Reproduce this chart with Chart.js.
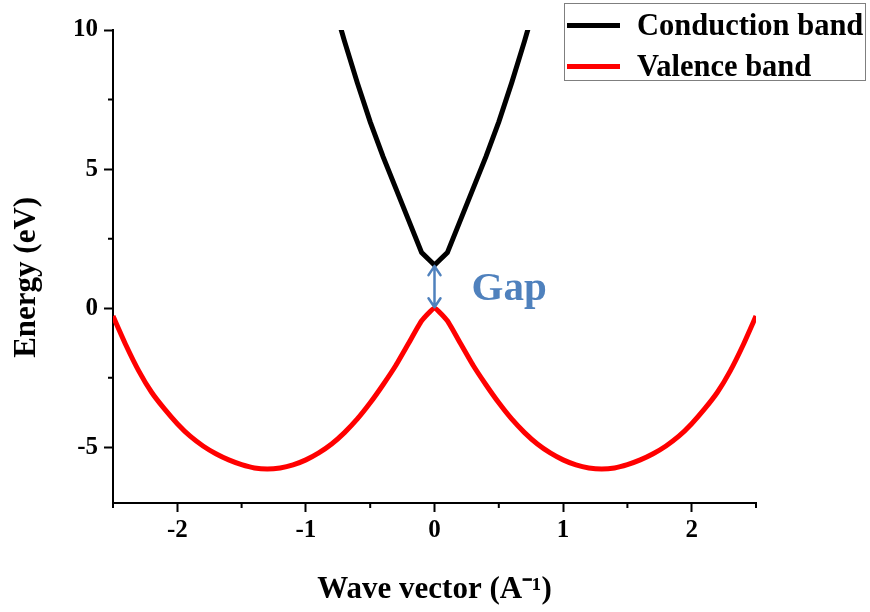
<!DOCTYPE html>
<html>
<head>
<meta charset="utf-8">
<script src="https://cdn.jsdelivr.net/npm/chart.js@4.4.1/dist/chart.umd.min.js"></script>
<style>
  html, body { margin: 0; padding: 0; background: #fff; }
  #wrap { position: relative; width: 870px; height: 612px; }
  #legend {
    position: absolute; left: 564px; top: 3px; width: 300px; height: 76px;
    border: 1px solid #7f7f7f; background: #fff;
    font-family: "Liberation Serif", "Times New Roman", serif;
    font-weight: bold; font-size: 30.5px; color: #000;
  }
  #legend .item { position: absolute; left: 2px; height: 36px; display: flex; align-items: center; white-space: nowrap; }
  #legend .swatch { width: 53px; height: 5px; margin-right: 17px; }
</style>
</head>
<body>
<div id="wrap">
  <canvas id="bandChart" width="870" height="612"></canvas>
  <div id="legend"></div>
</div>
<script>
// wave vector (A^-1) and energy (eV)
const kValence = [-2.5, -2.4, -2.3, -2.2, -2.1, -2.0, -1.9, -1.8, -1.7, -1.6, -1.5, -1.4, -1.3, -1.2, -1.1, -1.0,
                  -0.9, -0.8, -0.7, -0.6, -0.5, -0.4, -0.3, -0.2, -0.1, 0.0, 0.1, 0.2, 0.3, 0.4, 0.5, 0.6, 0.7,
                  0.8, 0.9, 1.0, 1.1, 1.2, 1.3, 1.4, 1.5, 1.6, 1.7, 1.8, 1.9, 2.0, 2.1, 2.2, 2.3, 2.4, 2.5];
const eValence = [-0.28, -1.32, -2.25, -3.02, -3.62, -4.15, -4.6, -4.95, -5.23, -5.45, -5.62, -5.74, -5.78, -5.74, -5.63, -5.45,
                  -5.2, -4.88, -4.47, -3.98, -3.4, -2.75, -2.05, -1.25, -0.45, 0.0, -0.45, -1.25, -2.05, -2.75, -3.4, -3.98, -4.47,
                  -4.88, -5.2, -5.45, -5.63, -5.74, -5.78, -5.74, -5.62, -5.45, -5.23, -4.95, -4.6, -4.15, -3.62, -3.02, -2.25, -1.32, -0.28];

const kConduction = [-0.8, -0.7, -0.6, -0.5, -0.4, -0.3, -0.2, -0.1, 0.0, 0.1, 0.2, 0.3, 0.4, 0.5, 0.6, 0.7, 0.8];
const eConduction = [11.2, 9.6, 8.1, 6.7, 5.45, 4.3, 3.15, 2.0, 1.55, 2.0, 3.15, 4.3, 5.45, 6.7, 8.1, 9.6, 11.2];

const xTicksMajor = [-2, -1, 0, 1, 2];
const yTicksMajor = [-5, 0, 5, 10];

// gap annotation
const gapBottom = 0;
const gapTop = 1.55;
const gapLabel = 'Gap';
const gapLabelAt = [0.58, 0.68];

const serif = '"Liberation Serif", "Times New Roman", serif';
const gapBlue = '#4f81bd';

function pairs(xs, ys) {
    return xs.map((x, i) => ({ x: x, y: ys[i] }));
}

const bandExtras = {
    id: 'bandExtras',
    afterDraw(chart) {
        const { ctx, scales: { x, y } } = chart;
        ctx.save();

        // short minor ticks
        ctx.strokeStyle = '#000';
        ctx.lineWidth = 2;
        ctx.beginPath();
        x.ticks.forEach(t => {
            if (xTicksMajor.includes(t.value)) return;
            const px = x.getPixelForValue(t.value);
            ctx.moveTo(px, x.top);
            ctx.lineTo(px, x.top + 5);
        });
        y.ticks.forEach(t => {
            if (yTicksMajor.includes(t.value) || t.value === y.min) return;
            const py = y.getPixelForValue(t.value);
            ctx.moveTo(y.right, py);
            ctx.lineTo(y.right - 5, py);
        });
        ctx.stroke();

        // double headed arrow for the gap
        const ax = x.getPixelForValue(0);
        const y1 = y.getPixelForValue(gapTop) + 1;
        const y2 = y.getPixelForValue(gapBottom) - 1;
        ctx.strokeStyle = gapBlue;
        ctx.lineWidth = 2.5;
        ctx.lineCap = 'round';
        ctx.lineJoin = 'round';
        ctx.beginPath();
        ctx.moveTo(ax, y1);
        ctx.lineTo(ax, y2);
        ctx.moveTo(ax - 6, y1 + 9);
        ctx.lineTo(ax, y1);
        ctx.lineTo(ax + 6, y1 + 9);
        ctx.moveTo(ax - 6, y2 - 9);
        ctx.lineTo(ax, y2);
        ctx.lineTo(ax + 6, y2 - 9);
        ctx.stroke();

        ctx.fillStyle = gapBlue;
        ctx.font = 'bold 41px ' + serif;
        ctx.textAlign = 'center';
        ctx.textBaseline = 'middle';
        ctx.fillText(gapLabel, x.getPixelForValue(gapLabelAt[0]), y.getPixelForValue(gapLabelAt[1]));
        ctx.restore();
    }
};

const ctxBand = document.getElementById('bandChart').getContext('2d');

const bandChart = new Chart(ctxBand, {
    type: 'line',
    data: {
        datasets: [{
            label: 'Conduction band',
            data: pairs(kConduction, eConduction),
            borderColor: '#000000',
            borderWidth: 5,
            pointRadius: 0,
            tension: 0,
            clip: 0
        }, {
            label: 'Valence band',
            data: pairs(kValence, eValence),
            borderColor: '#ff0000',
            borderWidth: 5,
            pointRadius: 0,
            tension: 0.15,
            clip: 0
        }]
    },
    options: {
        responsive: false,
        animation: false,
        layout: {
            padding: { top: 30, right: 114, bottom: 0, left: 0 }
        },
        plugins: {
            legend: { display: false },
            tooltip: { enabled: false }
        },
        scales: {
            x: {
                type: 'linear',
                min: -2.5,
                max: 2.5,
                afterFit: function (scale) { scale.height = 109; },
                border: { color: '#000', width: 2 },
                grid: {
                    drawOnChartArea: false,
                    tickLength: 9,
                    tickWidth: 2,
                    tickColor: c => xTicksMajor.includes(c.tick.value) ? '#000' : 'rgba(0,0,0,0)'
                },
                ticks: {
                    stepSize: 0.5,
                    padding: 4,
                    maxRotation: 0,
                    autoSkip: false,
                    color: '#000',
                    font: { family: serif, size: 25, weight: 'bold' },
                    callback: v => xTicksMajor.includes(v) ? String(v) : ''
                },
                title: {
                    display: true,
                    text: 'Wave vector (A\u207B\u00B9)',
                    color: '#000',
                    font: { family: serif, size: 31, weight: 'bold' },
                    padding: { top: 0, bottom: 3 }
                }
            },
            y: {
                type: 'linear',
                min: -7,
                max: 10,
                afterFit: function (scale) { scale.width = 113; },
                border: { color: '#000', width: 2 },
                grid: {
                    drawOnChartArea: false,
                    tickLength: 9,
                    tickWidth: 2,
                    tickColor: c => yTicksMajor.includes(c.tick.value) ? '#000' : 'rgba(0,0,0,0)'
                },
                ticks: {
                    stepSize: 2.5,
                    padding: 6,
                    autoSkip: false,
                    color: '#000',
                    font: { family: serif, size: 25, weight: 'bold' },
                    callback: v => yTicksMajor.includes(v) ? String(v) : ''
                },
                title: {
                    display: true,
                    text: 'Energy (eV)\u2002\u2009',
                    color: '#000',
                    font: { family: serif, size: 31, weight: 'bold' },
                    padding: { top: 8, bottom: 0 }
                }
            }
        }
    },
    plugins: [bandExtras]
});

// html legend built from the datasets
const legendBox = document.getElementById('legend');
const rowCentres = [21, 62];
bandChart.data.datasets.forEach((ds, i) => {
    const item = document.createElement('div');
    item.className = 'item';
    item.style.top = (rowCentres[i] - 18) + 'px';
    const sw = document.createElement('span');
    sw.className = 'swatch';
    sw.style.background = ds.borderColor;
    const txt = document.createElement('span');
    txt.textContent = ds.label;
    item.appendChild(sw);
    item.appendChild(txt);
    legendBox.appendChild(item);
});
</script>
</body>
</html>
